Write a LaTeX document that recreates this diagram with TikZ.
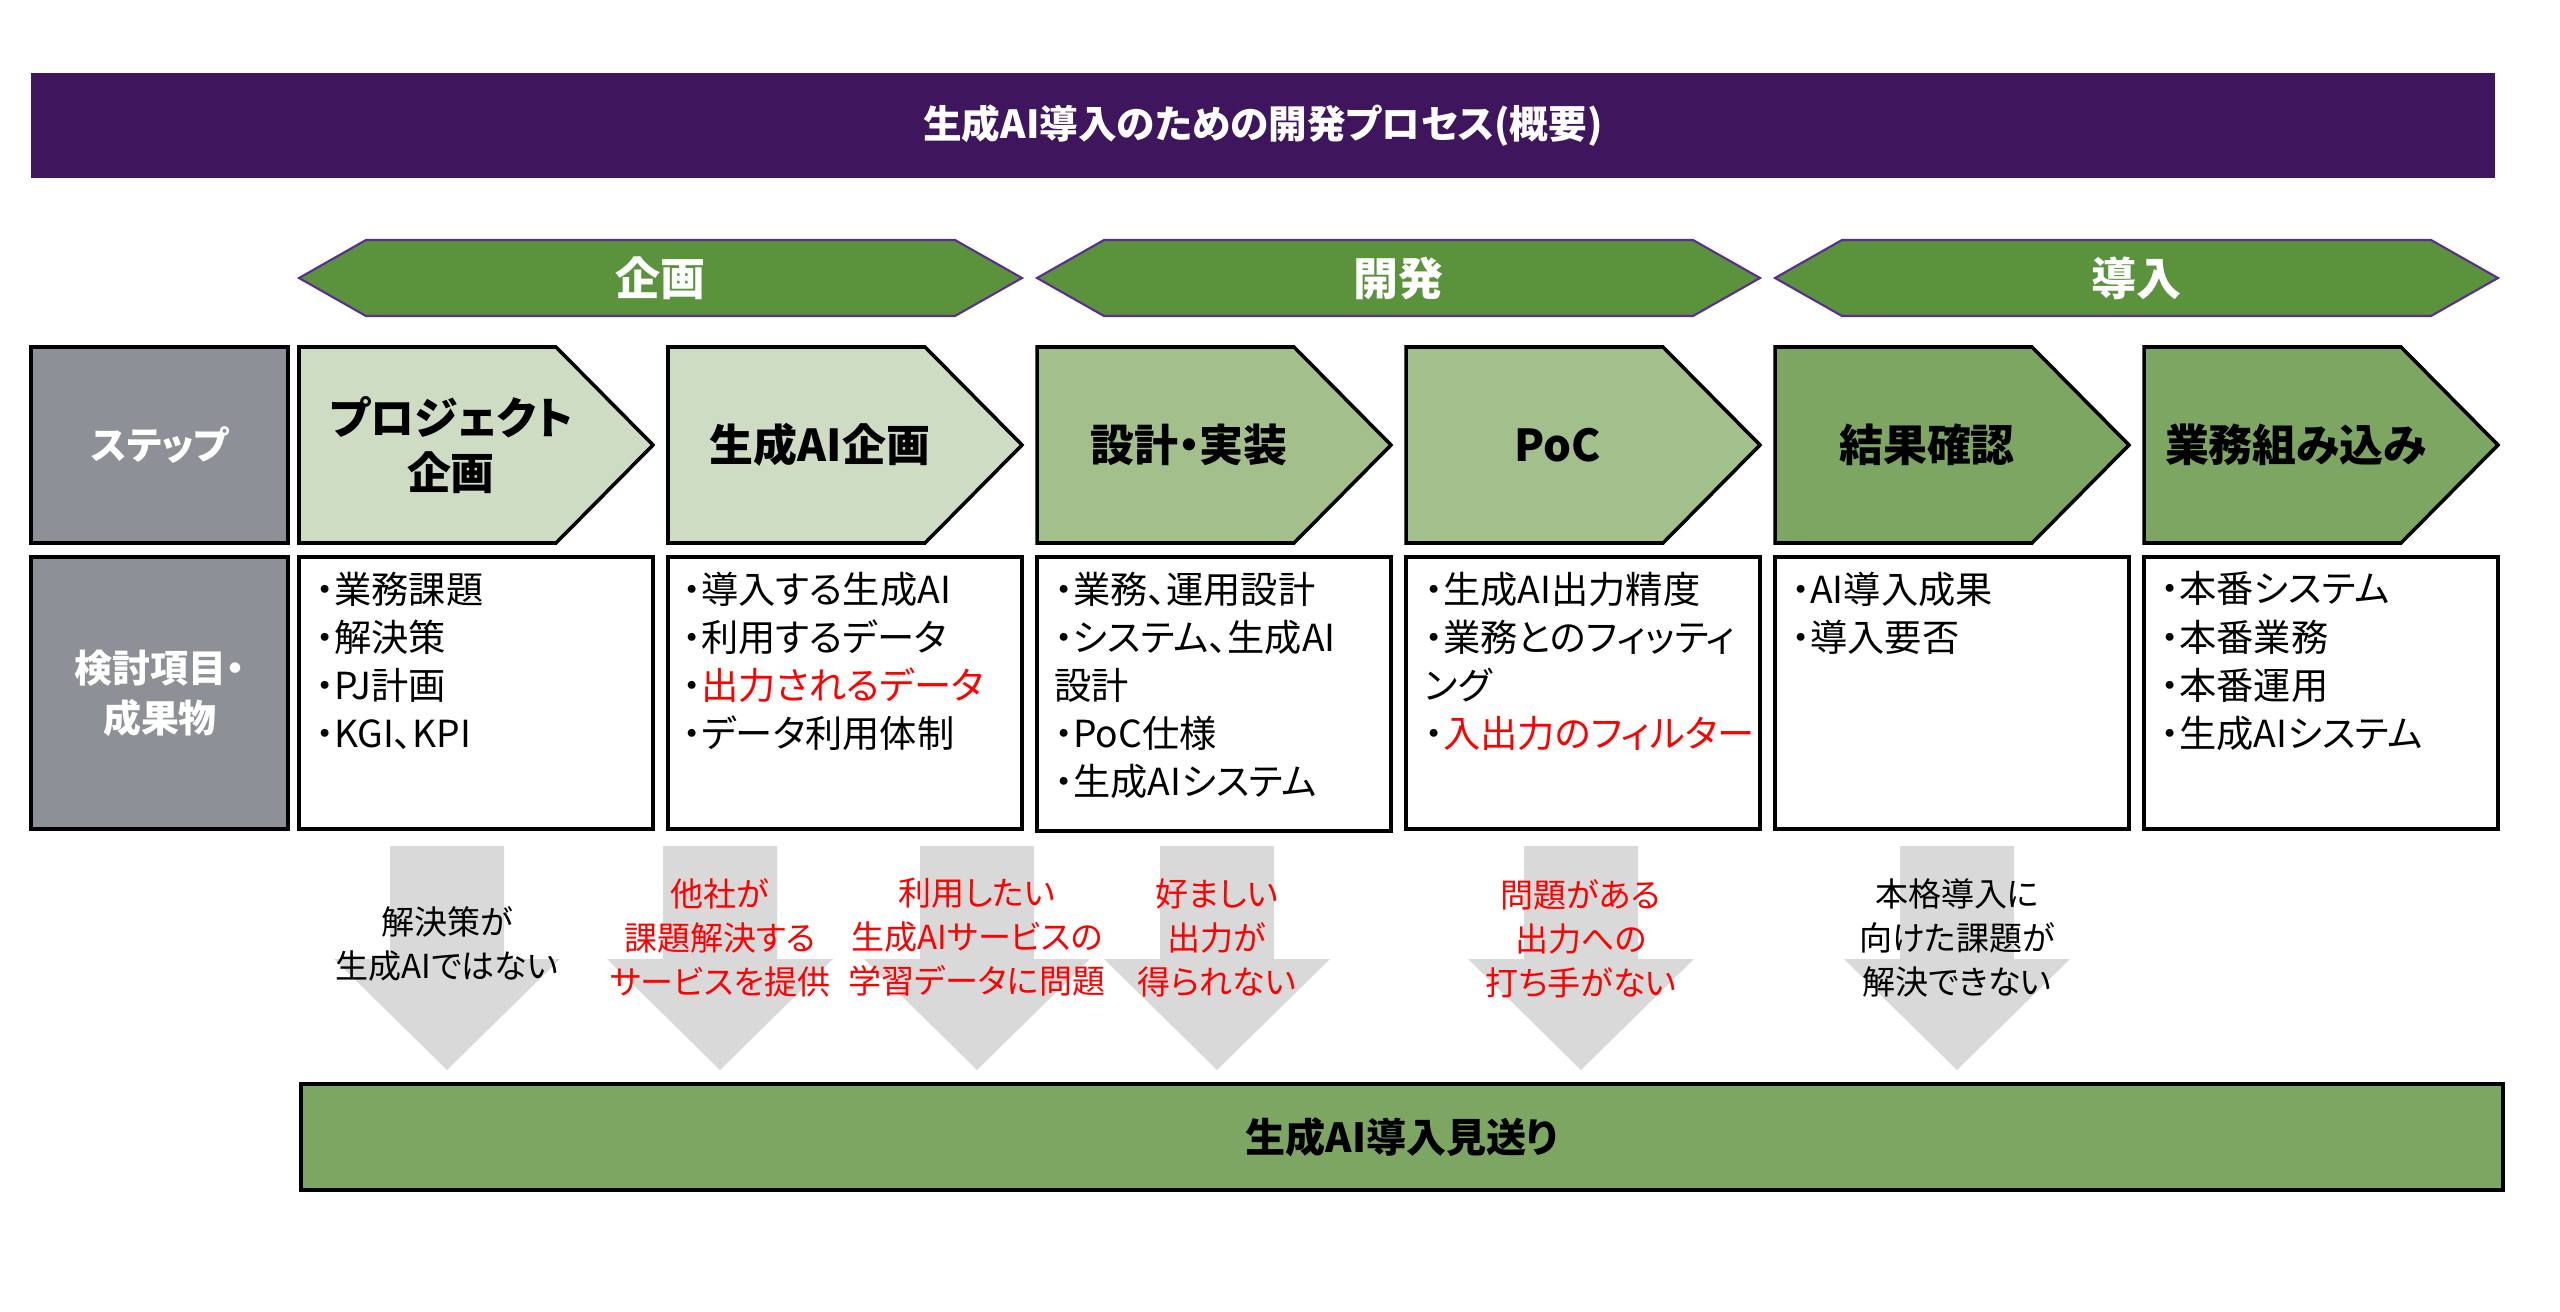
\documentclass[tikz,border=0pt]{standalone}
\usepackage{fontspec}
\setmainfont{Noto Sans CJK JP}[CharacterWidth=AlternateProportional]
\usepackage{xcolor}

\definecolor{titlepurple}{HTML}{3F155E}
\definecolor{phasegreen}{HTML}{5B923C}
\definecolor{phaseline}{HTML}{5C2D91}
\definecolor{sidegray}{HTML}{8D9197}
\definecolor{lightsage}{HTML}{CFDCC4}
\definecolor{midsage}{HTML}{A2BF8C}
\definecolor{darksage}{HTML}{7EA663}
\definecolor{arrowgray}{HTML}{D9D9D9}
\definecolor{alertred}{HTML}{FF0000}

\begin{document}
\begin{tikzpicture}[x=0.1mm, y=-0.1mm,
	every node/.style={inner sep=0pt},
	phase/.style={fill=phasegreen, draw=phaseline, line width=0.6pt},
	framed/.style={draw=black, line width=1pt},
	droparrow/.style={fill=arrowgray},
	titletext/.style={text=white, font=\bfseries\fontsize{11}{13}\selectfont},
	phasetext/.style={text=white, font=\bfseries\fontsize{12.8}{15}\selectfont},
	sidetext/.style={text=white, font=\bfseries\fontsize{10.8}{14.2}\selectfont, align=center},
	steptext/.style={font=\bfseries\fontsize{12.5}{15.4}\selectfont, align=center},
	itemtext/.style={font=\fontsize{10.6}{13.7}\selectfont, align=left, anchor=north west},
	droptext/.style={font=\fontsize{9.4}{12.6}\selectfont, align=center}]

	\fill[white] (0,0) rectangle (2560,1312);
	\useasboundingbox (0,0) rectangle (2560,1312);

	% Title bar
	\fill[titlepurple] (31,73) rectangle (2495,178);
	\node[titletext] (T) at (1263,126) {生成AI導入のための開発プロセス(概要)};

	% Phases
	\draw[phase] (299,278) -- (366,240) -- (955,240) -- (1022,278) -- (955,316) -- (366,316) -- cycle;
	\draw[phase] (1037,278) -- (1104,240) -- (1693,240) -- (1760,278) -- (1693,316) -- (1104,316) -- cycle;
	\draw[phase] (1775,278) -- (1842,240) -- (2431,240) -- (2498,278) -- (2431,316) -- (1842,316) -- cycle;
	\node[phasetext] (P1) at (660,278) {企画};
	\node[phasetext] (P2) at (1398,278) {開発};
	\node[phasetext] (P3) at (2136,278) {導入};

	% Steps
	\draw[framed, fill=sidegray] (31,347) rectangle (288,543);
	\node[sidetext] (S0) at (160,445) {ステップ};
	\draw[framed, fill=lightsage] (299,347) -- (556,347) -- (653,445) -- (556,543) -- (299,543) -- cycle;
	\draw[framed, fill=lightsage] (668,347) -- (925,347) -- (1022,445) -- (925,543) -- (668,543) -- cycle;
	\draw[framed, fill=midsage] (1037,347) -- (1294,347) -- (1391,445) -- (1294,543) -- (1037,543) -- cycle;
	\draw[framed, fill=midsage] (1406,347) -- (1663,347) -- (1760,445) -- (1663,543) -- (1406,543) -- cycle;
	\draw[framed, fill=darksage] (1775,347) -- (2032,347) -- (2129,445) -- (2032,543) -- (1775,543) -- cycle;
	\draw[framed, fill=darksage] (2144,347) -- (2401,347) -- (2498,445) -- (2401,543) -- (2144,543) -- cycle;
	\node[steptext] (S1) at (451,445) {プロジェクト\\企画};
	\node[steptext] (S2) at (820,445) {生成AI企画};
	\node[steptext] (S3) at (1189,445) {設計・実装};
	\node[steptext] (S4) at (1558,445) {PoC};
	\node[steptext] (S5) at (1927,445) {結果確認};
	\node[steptext] (S6) at (2296,445) {業務組み込み};

	% Items to consider / deliverables
	\draw[framed, fill=sidegray] (31,557) rectangle (288,829);
	\node[sidetext] (C0) at (160,693) {検討項目・\\成果物};
	\draw[framed] (299,557) rectangle (653,829);
	\draw[framed] (668,557) rectangle (1022,829);
	\draw[framed] (1037,557) rectangle (1391,831);
	\draw[framed] (1406,557) rectangle (1760,829);
	\draw[framed] (1775,557) rectangle (2129,829);
	\draw[framed] (2144,557) rectangle (2498,829);
	\node[itemtext] (C1) at (315,571) {・業務課題\\・解決策\\・PJ計画\\・KGI、KPI};
	\node[itemtext] (C2) at (682,571) {・導入する生成AI\\・利用するデータ\\・\textcolor{alertred}{出力されるデータ}\\・データ利用体制};
	\node[itemtext] (C3) at (1054,571) {・業務、運用設計\\・システム、生成AI\\設計\\・PoC仕様\\・生成AIシステム};
	\node[itemtext] (C4) at (1424,571) {・生成AI出力精度\\・業務とのフィッティ\\ング\\・\textcolor{alertred}{入出力のフィルター}};
	\node[itemtext] (C5) at (1791,571) {・AI導入成果\\・導入要否};
	\node[itemtext] (C6) at (2160,571) {・本番システム\\・本番業務\\・本番運用\\・生成AIシステム};

	% Reasons to stop
	\fill[droparrow] (390,846) -- (504,846) -- (504,959) -- (560,959) -- (447,1070) -- (334,959) -- (390,959) -- cycle;
	\fill[droparrow] (663,846) -- (777,846) -- (777,959) -- (833,959) -- (720,1070) -- (607,959) -- (663,959) -- cycle;
	\fill[droparrow] (920,846) -- (1034,846) -- (1034,959) -- (1090,959) -- (977,1070) -- (864,959) -- (920,959) -- cycle;
	\fill[droparrow] (1160,846) -- (1274,846) -- (1274,959) -- (1330,959) -- (1217,1070) -- (1104,959) -- (1160,959) -- cycle;
	\fill[droparrow] (1524,846) -- (1638,846) -- (1638,959) -- (1694,959) -- (1581,1070) -- (1468,959) -- (1524,959) -- cycle;
	\fill[droparrow] (1900,846) -- (2014,846) -- (2014,959) -- (2070,959) -- (1957,1070) -- (1844,959) -- (1900,959) -- cycle;
	\node[droptext] (D1) at (447,944) {解決策が\\生成AIではない};
	\node[droptext, text=alertred] (D2) at (720,938) {他社が\\課題解決する\\サービスを提供};
	\node[droptext, text=alertred] (D3) at (977,937) {利用したい\\生成AIサービスの\\学習データに問題};
	\node[droptext, text=alertred] (D4) at (1217,938) {好ましい\\出力が\\得られない};
	\node[droptext, text=alertred] (D5) at (1581,939) {問題がある\\出力への\\打ち手がない};
	\node[droptext] (D6) at (1957,938) {本格導入に\\向けた課題が\\解決できない};

	% Result
	\draw[framed, fill=darksage] (301,1084) rectangle (2503,1190);
	\node[steptext, font=\bfseries\fontsize{11.4}{14}\selectfont] (N) at (1402,1137) {生成AI導入見送り};
\end{tikzpicture}
\end{document}
